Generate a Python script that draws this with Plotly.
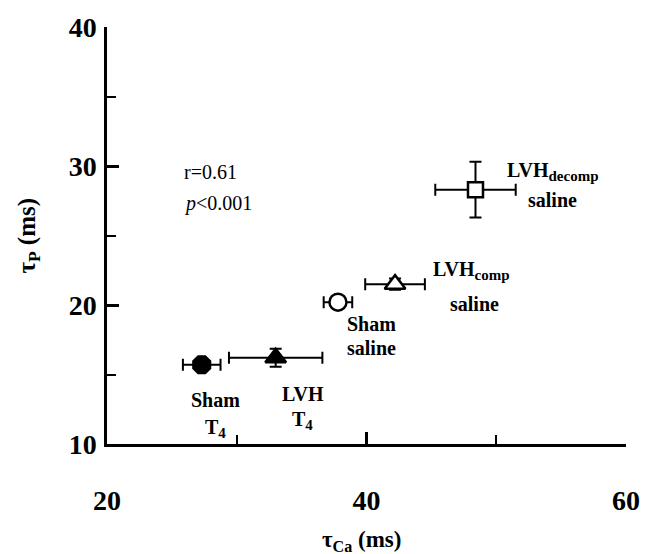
import plotly.graph_objects as go

# ---- data ----
groups = ["Sham T4", "LVH T4", "Sham saline", "LVHcomp saline", "LVHdecomp saline"]
tau_ca = [27.3, 33.0, 37.8, 42.2, 48.4]
tau_ca_err = [1.45, 3.6, 1.1, 2.3, 3.1]
tau_p = [15.7, 16.2, 20.2, 21.5, 28.3]
tau_p_err = [0.3, 0.65, 0.4, 0.4, 2.0]

x_ticks = [20, 40, 60]
y_ticks = [10, 20, 30, 40]

# ---- styles ----
symbols = ["octagon", "triangle-up", "circle", "triangle-up", "square"]
fills = ["black", "black", "white", "white", "white"]
sizes = [18, 18, 17, 18, 15]

SERIF = "Liberation Serif"
SUB = "<sub><span style='font-size:15px'>{}</span></sub>"

fig = go.Figure()
for i, g in enumerate(groups):
    fig.add_trace(go.Scatter(
        x=[tau_ca[i]], y=[tau_p[i]], mode="markers", name=g,
        marker=dict(symbol=symbols[i], color=fills[i], size=sizes[i],
                    line=dict(color="black", width=2.5)),
        error_x=dict(type="data", array=[tau_ca_err[i]], color="black",
                     thickness=2, width=6),
        error_y=dict(type="data", array=[tau_p_err[i]], color="black",
                     thickness=2, width=6),
        showlegend=False,
    ))

# group labels: (text, x, y, xanchor)
labels = [
    ("<b>Sham</b>", 28.4, 13.13, "center"),
    ("<b>T" + SUB.format("4") + "</b>", 28.4, 11.14, "center"),
    ("<b>LVH</b>", 35.1, 13.6, "center"),
    ("<b>T" + SUB.format("4") + "</b>", 35.1, 11.7, "center"),
    ("<b>Sham</b>", 40.4, 18.6, "center"),
    ("<b>saline</b>", 40.4, 16.9, "center"),
    ("<b>LVH" + SUB.format("comp") + "</b>", 45.0, 22.5, "left"),
    ("<b>saline</b>", 48.3, 20.1, "center"),
    ("<b>LVH" + SUB.format("decomp") + "</b>", 50.7, 29.6, "left"),
    ("<b>saline</b>", 54.3, 27.55, "center"),
]
for t, x, y, xa in labels:
    fig.add_annotation(x=x, y=y, text=t, showarrow=False, xanchor=xa,
                       yanchor="middle", font=dict(family=SERIF, size=20, color="black"))

fig.add_annotation(x=25.76, y=29.6, text="r=0.61", showarrow=False, xanchor="left",
                   yanchor="middle", font=dict(family=SERIF, size=20, color="black"))
fig.add_annotation(x=25.76, y=27.3, text="<i>p</i><0.001", showarrow=False, xanchor="left",
                   yanchor="middle", font=dict(family=SERIF, size=20, color="black"))

# axis titles
fig.add_annotation(xref="paper", yref="paper", x=0.49, y=-0.232, text="<b>τ<sub>Ca</sub> (ms)</b>",
                   showarrow=False, xanchor="center", yanchor="middle",
                   font=dict(family=SERIF, size=23, color="black"))
fig.add_annotation(xref="paper", yref="paper", x=-0.152, y=0.5, text="<b>τ<sub>P</sub> (ms)</b>",
                   showarrow=False, xanchor="center", yanchor="middle", textangle=-90,
                   font=dict(family=SERIF, size=25, color="black"))

axis_common = dict(showline=True, linecolor="black", linewidth=2.5, showgrid=False,
                   zeroline=False, ticks="inside", ticklen=12, tickwidth=2.5,
                   tickcolor="black", mirror=False,
                   tickfont=dict(family=SERIF, size=28, color="black", weight="bold"))

fig.update_xaxes(range=[20, 60], tickvals=x_ticks, ticklabelstandoff=30,
                 minor=dict(tickvals=[30, 50], ticks="inside", ticklen=9, tickwidth=2,
                            tickcolor="black"),
                 **axis_common)
fig.update_yaxes(range=[10, 40], tickvals=y_ticks, ticklabelstandoff=2,
                 minor=dict(tickvals=[15, 25, 35], ticks="inside", ticklen=9, tickwidth=2,
                            tickcolor="black"),
                 **axis_common)

fig.update_layout(width=652, height=554, plot_bgcolor="white", paper_bgcolor="white",
                  margin=dict(l=107, r=17, t=22, b=110))

fig.write_html("out.html", config={"displayModeBar": False},
               post_script="document.body.style.margin='0';document.body.style.overflow='hidden';")
